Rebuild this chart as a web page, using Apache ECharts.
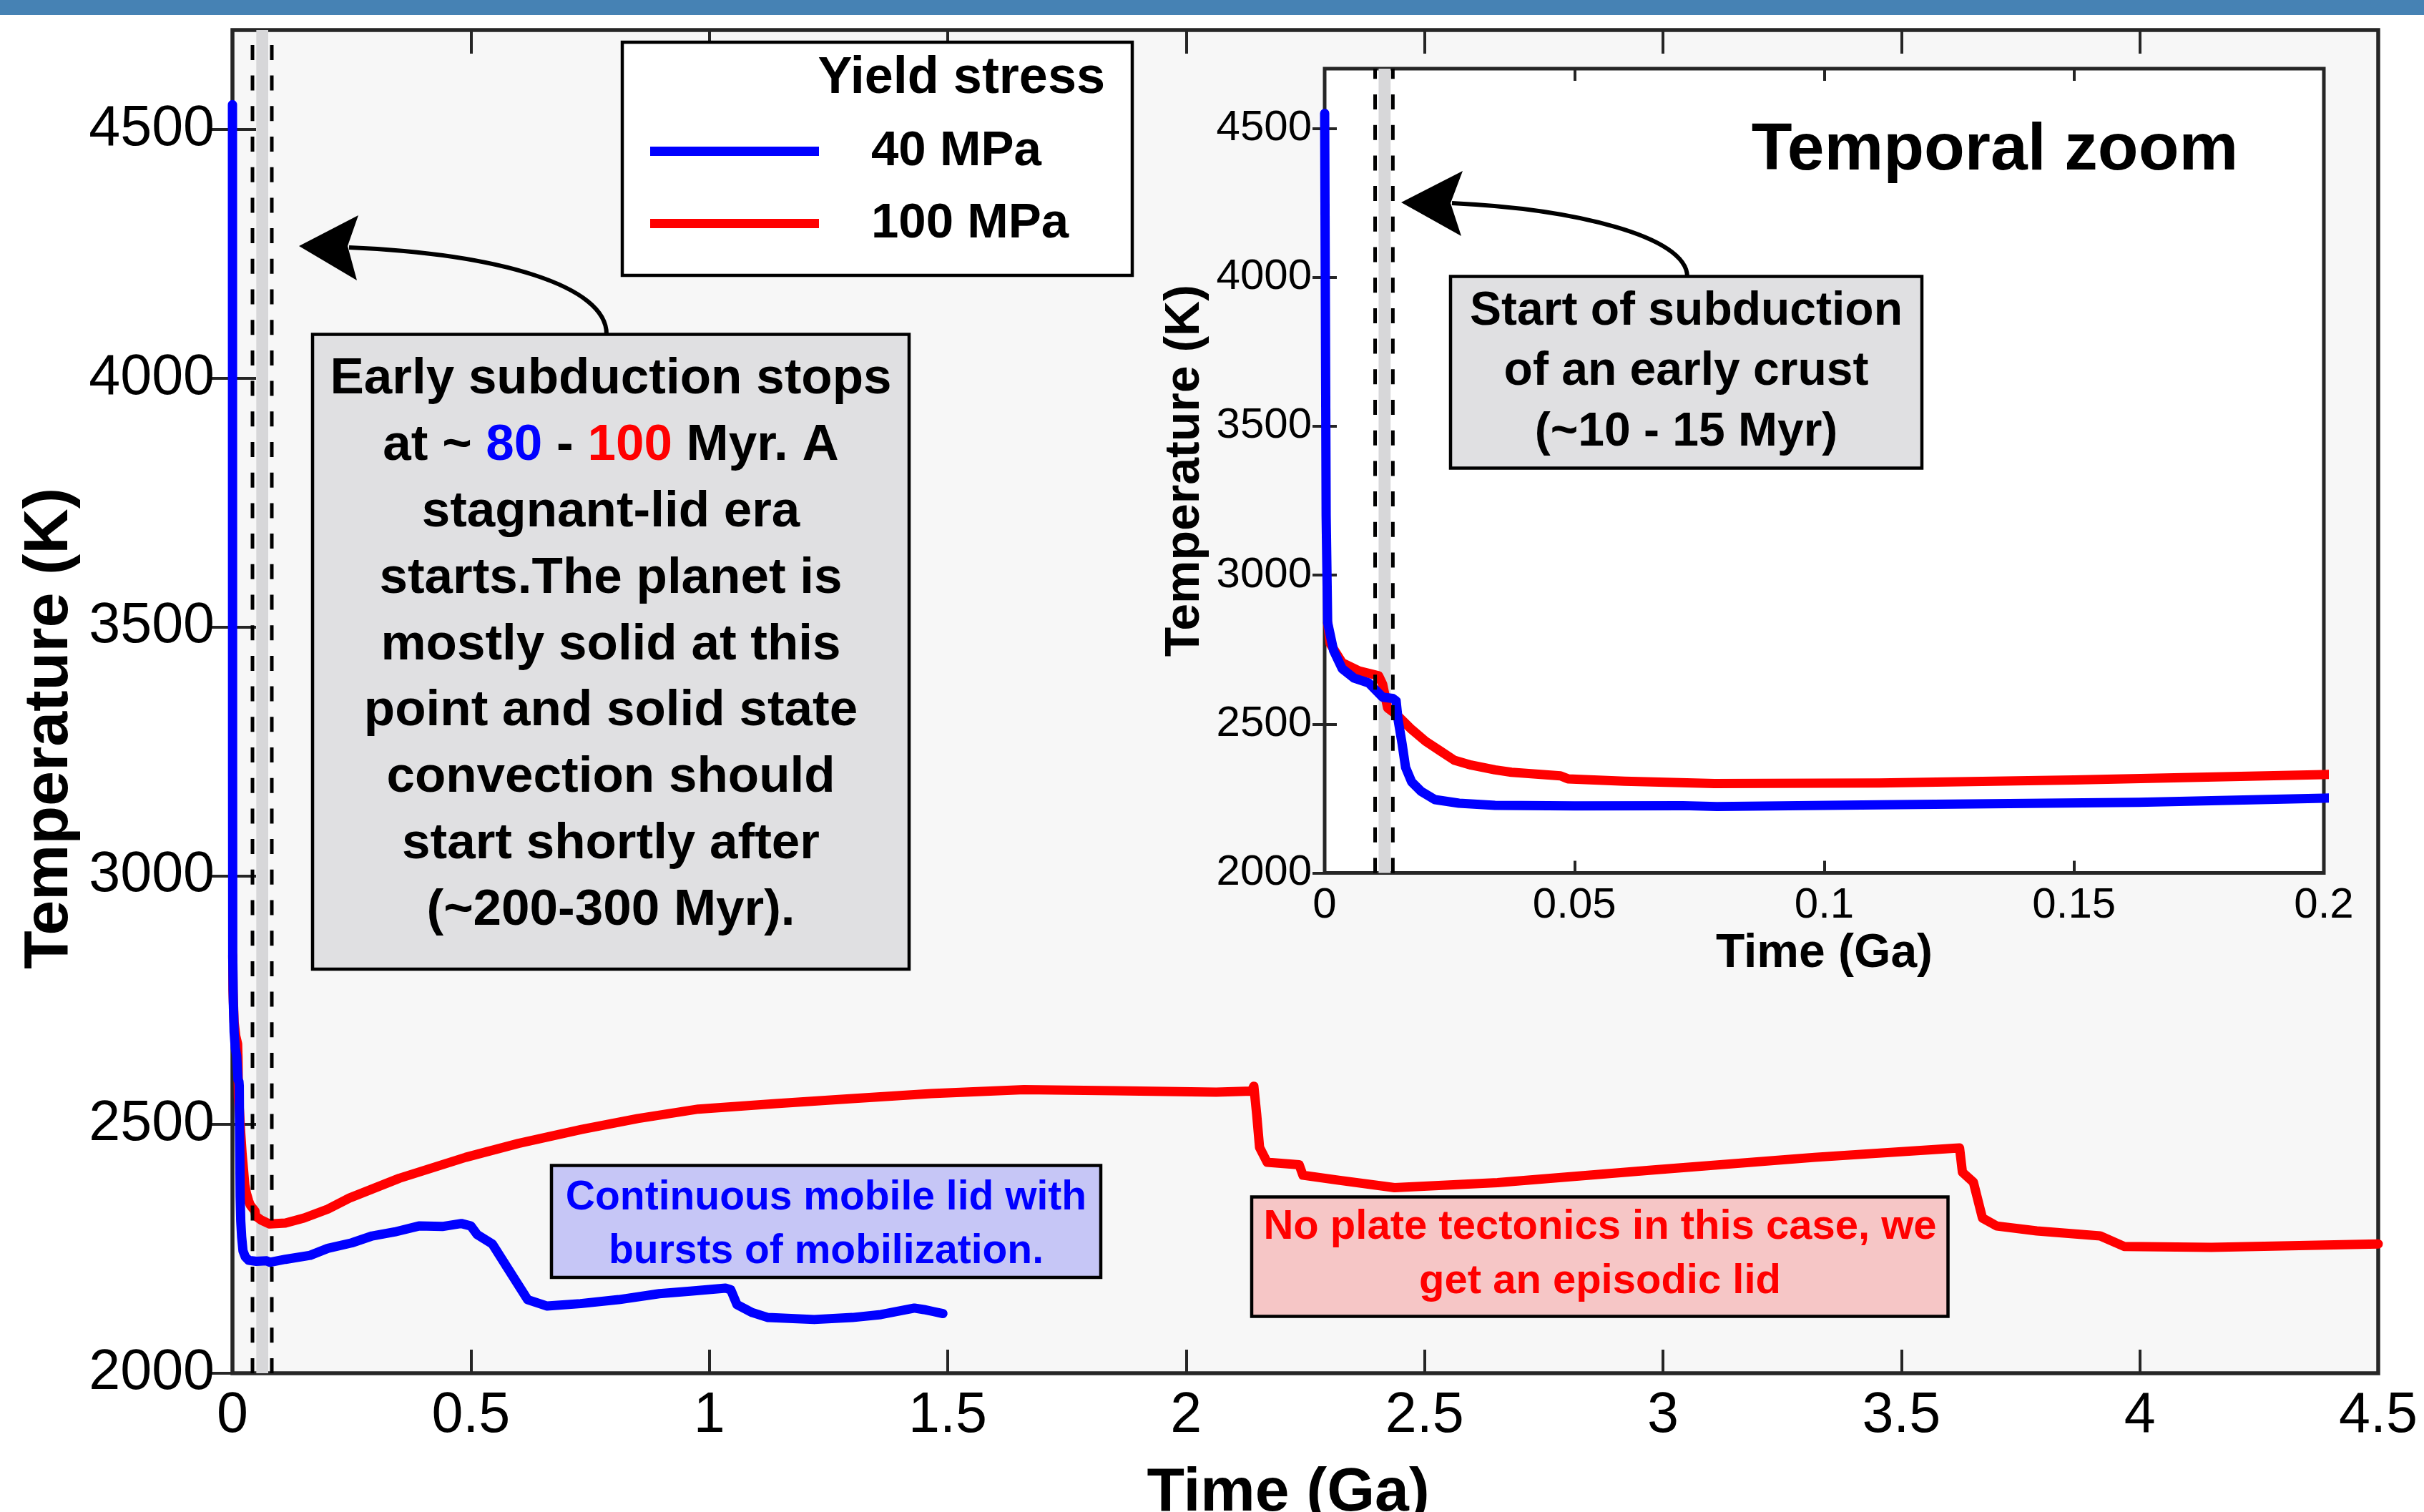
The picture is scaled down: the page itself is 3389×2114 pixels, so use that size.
<!DOCTYPE html>
<html>
<head>
<meta charset="utf-8">
<title>Temperature evolution</title>
<script src="https://cdn.jsdelivr.net/npm/echarts@6/dist/echarts.min.js"></script>
<style>
    html, body { margin: 0; padding: 0; background: #ffffff; }
    #chart { width: 3389px; height: 2114px; }
</style>
</head>
<body>
<div id="chart"></div>
<script>
// yield stress runs
var seriesNames = ['40 MPa', '100 MPa'];
var seriesColors = ['#0000ff', '#ff0000'];

// 40 MPa : time (Ga) / temperature (K)
var blueTime = [0, 0.0003, 0.0006, 0.0018, 0.0035, 0.0059, 0.0088, 0.0102, 0.0116, 0.0136, 0.0143, 0.0147, 0.0155,
    0.0162, 0.0174, 0.0193, 0.0221, 0.0269, 0.0341, 0.05, 0.0717, 0.0785, 0.111, 0.163, 0.2, 0.25, 0.293, 0.34,
    0.391, 0.44, 0.48, 0.5, 0.513, 0.545, 0.578, 0.619, 0.66, 0.73, 0.81, 0.895, 0.96, 1.034, 1.045, 1.058, 1.09,
    1.123, 1.22, 1.3, 1.36, 1.43, 1.45, 1.47, 1.49];
var blueTemp = [4550, 3200, 2840, 2746, 2686, 2654, 2638, 2614, 2590, 2586, 2578, 2514, 2434,
    2354, 2306, 2274, 2246, 2234, 2227, 2225, 2226, 2223, 2229, 2237, 2251, 2262, 2276, 2284,
    2296, 2295, 2301, 2296, 2279, 2260, 2210, 2148, 2135, 2140, 2148, 2160, 2165, 2171, 2168, 2138, 2122,
    2112, 2108, 2112, 2118, 2131, 2128, 2124, 2120];

// 100 MPa : time (Ga) / temperature (K)
var redTime = [0.0006, 0.0011, 0.0035, 0.0069, 0.0108, 0.0116, 0.0126, 0.0145, 0.0174, 0.0202, 0.0231, 0.026,
    0.0293, 0.0341, 0.0374, 0.0472, 0.0487, 0.06, 0.078, 0.111, 0.15, 0.2, 0.245, 0.35, 0.489, 0.6, 0.732, 0.85,
    0.977, 1.14, 1.3, 1.465, 1.66, 1.85, 2.063, 2.137, 2.142, 2.148, 2.154, 2.17, 2.237, 2.245, 2.32, 2.437,
    2.653, 2.985, 3.318, 3.609, 3.622, 3.628, 3.651, 3.67, 3.7, 3.784, 3.917, 3.967, 4.15, 4.5];
var redTemp = [2840, 2770, 2706, 2678, 2662, 2634, 2554, 2530, 2482, 2442, 2410, 2378,
    2362, 2346, 2338, 2326, 2316, 2308, 2300, 2302, 2312, 2330, 2352, 2392, 2434, 2462, 2490, 2512,
    2531, 2542, 2552, 2562, 2570, 2568, 2565, 2567, 2577, 2520, 2454, 2424, 2419, 2398, 2388, 2373,
    2383, 2409, 2434, 2452, 2453, 2404, 2384, 2312, 2296, 2286, 2276, 2255, 2253, 2260];

// axis ticks
var tempTicks = [2000, 2500, 3000, 3500, 4000, 4500];
var tempMax = 4700;
var timeTicks = [0, 0.5, 1, 1.5, 2, 2.5, 3, 3.5, 4, 4.5];
var zoomTimeTicks = [0, 0.05, 0.1, 0.15, 0.2];

// start of subduction window (dashed lines and grey band), Ga
var mainWindowLines = [0.042, 0.0825];
var mainWindowBand = [0.05, 0.075];
var zoomWindowLines = [0.0101, 0.01365];
var zoomWindowBand = [0.0108, 0.0132];

(function () {
    var myChart = echarts.init(document.getElementById('chart'));
    var FONT = '"Liberation Sans", Arial, sans-serif';
    var AXIS_COLOR = '#262626';

    function zip(xs, ys) {
        return xs.map(function (x, i) { return [x, ys[i]]; });
    }

    // one visible axis + one mirrored axis carrying only the inner ticks
    function axisPair(kind, grid, ticks, max, opt) {
        var common = {
            type: 'value', gridIndex: grid,
            min: ticks[0], max: max, interval: ticks[1] - ticks[0],
            splitLine: { show: false },
            axisLine: { show: false },
            axisTick: {
                inside: true, length: opt.tickLen, customValues: ticks,
                lineStyle: { color: AXIS_COLOR, width: 4 }
            }
        };
        var main = echarts.util.merge({
            position: kind === 'x' ? 'bottom' : 'left',
            name: opt.name, nameLocation: 'middle', nameGap: opt.nameGap, nameMoveOverlap: false,
            nameRotate: kind === 'y' ? 90 : 0,
            nameTextStyle: {
                fontFamily: FONT, fontWeight: 'bold', fontSize: opt.nameSize, color: '#000',
                padding: opt.namePad || 0
            },
            axisLabel: {
                show: true, customValues: ticks, margin: opt.labelMargin,
                fontFamily: FONT, fontSize: opt.labelSize, color: '#000',
                formatter: function (v) { return String(v); }
            }
        }, common, true);
        var mirror = echarts.util.merge({
            position: kind === 'x' ? 'top' : 'right',
            axisLabel: { show: false }
        }, echarts.util.clone(common), true);
        return [main, mirror];
    }

    var xAxes = axisPair('x', 0, timeTicks, timeTicks[timeTicks.length - 1], {
        tickLen: 33, name: 'Time (Ga)', nameSize: 86, nameGap: 125, namePad: [0, 48, 0, 0],
        labelSize: 79, labelMargin: 21
    }).concat(axisPair('x', 1, zoomTimeTicks, zoomTimeTicks[zoomTimeTicks.length - 1], {
        tickLen: 17, name: 'Time (Ga)', nameSize: 66, nameGap: 80,
        labelSize: 60, labelMargin: 16
    }));
    var yAxes = axisPair('y', 0, tempTicks, tempMax, {
        tickLen: 33, name: 'Temperature (K)', nameSize: 88, nameGap: 211, namePad: [0, 75, 0, 0],
        labelSize: 79, labelMargin: 25
    }).concat(axisPair('y', 1, tempTicks, tempMax, {
        tickLen: 17, name: 'Temperature (K)', nameSize: 68, nameGap: 161,
        labelSize: 60, labelMargin: 18
    }));

    // red first so the 40 MPa curve sits on top, as in the figure
    var runs = [
        { name: seriesNames[1], color: seriesColors[1], data: zip(redTime, redTemp) },
        { name: seriesNames[0], color: seriesColors[0], data: zip(blueTime, blueTemp) }
    ];
    var series = [];

    // axisIndex: 0 = main panel, 2 = temporal zoom (1 and 3 are the mirrored tick axes)
    function addPanel(axisIndex, band, lines) {
        // grey band under the curves
        series.push({
            type: 'line', name: 'band' + axisIndex, data: [], silent: true, z: 1,
            xAxisIndex: axisIndex, yAxisIndex: axisIndex,
            markArea: {
                silent: true, label: { show: false },
                itemStyle: { color: '#d7d7d9' },
                data: [[{ xAxis: band[0] }, { xAxis: band[1] }]]
            }
        });
        runs.forEach(function (run) {
            series.push({
                type: 'line', name: run.name, data: run.data,
                xAxisIndex: axisIndex, yAxisIndex: axisIndex,
                showSymbol: false, symbol: 'none', z: 3, clip: true,
                itemStyle: { color: run.color },
                lineStyle: { color: run.color, width: 13, cap: 'round', join: 'round' }
            });
        });
        // dashed markers on top
        lines.forEach(function (v) {
            series.push({
                type: 'line', name: 'marker', silent: true, z: 4,
                xAxisIndex: axisIndex, yAxisIndex: axisIndex,
                showSymbol: false, symbol: 'none',
                data: [[v, tempTicks[0]], [v, tempMax]],
                lineStyle: { color: '#000', width: 5, type: [21, 21.7] }
            });
        });
    }
    addPanel(0, mainWindowBand, mainWindowLines);
    addPanel(2, zoomWindowBand, zoomWindowLines);

    function textEl(x, y, text, size, color, lh, rich) {
        return {
            type: 'text', x: x, y: y, z: 16,
            style: {
                text: text, fill: color, fontFamily: FONT, fontWeight: 'bold', fontSize: size,
                lineHeight: lh, align: 'center', verticalAlign: 'middle',
                textAlign: 'center', textVerticalAlign: 'middle', rich: rich
            }
        };
    }
    function boxEl(x, y, w, h, fill) {
        return {
            type: 'rect', z: 15, shape: { x: x, y: y, width: w, height: h },
            style: { fill: fill, stroke: '#000', lineWidth: 4.5 }
        };
    }

    option = {
        animation: false,
        backgroundColor: '#ffffff',
        textStyle: { fontFamily: FONT },
        grid: [
            { left: 325, top: 42, width: 3000, height: 1878, show: true, outerBoundsMode: 'none',
              backgroundColor: '#f7f7f7', borderColor: AXIS_COLOR, borderWidth: 5.5 },
            { left: 1852, top: 96, width: 1397, height: 1124.5, show: true, outerBoundsMode: 'none',
              backgroundColor: '#ffffff', borderColor: AXIS_COLOR, borderWidth: 5 }
        ],
        xAxis: xAxes,
        yAxis: yAxes,
        legend: {
            data: seriesNames, orient: 'vertical', left: 909, top: 177,
            itemWidth: 236, itemHeight: 13, itemGap: 32, icon: 'rect',
            padding: 0, selectedMode: false, z: 20,
            textStyle: {
                fontFamily: FONT, fontWeight: 'bold', fontSize: 69, color: '#000',
                padding: [0, 0, 0, 68]
            }
        },
        graphic: { elements: [
            { type: 'rect', z: 0, shape: { x: 0, y: 0, width: 3389, height: 21 }, style: { fill: '#4682b4' } },
            // legend frame and title
            { type: 'rect', z: 15, shape: { x: 870, y: 59, width: 713, height: 326 },
              style: { fill: '#ffffff', stroke: '#000', lineWidth: 4.5 } },
            { type: 'text', x: 1545, y: 110, z: 16,
              style: { text: 'Yield stress', fill: '#000', fontFamily: FONT, fontWeight: 'bold', fontSize: 72,
                       align: 'right', verticalAlign: 'middle', textAlign: 'right', textVerticalAlign: 'middle' } },
            // early subduction note
            boxEl(437, 467.5, 834, 887.5, '#e0e0e2'),
            textEl(854, 902,
                'Early subduction stops\nat ~ {b|80} - {r|100} Myr. A\nstagnant-lid era\nstarts.The planet is\n' +
                'mostly solid at this\npoint and solid state\nconvection should\nstart shortly after\n(~200-300 Myr).',
                71, '#000', 92.9, {
                    b: { fill: '#0000ff', fontFamily: FONT, fontWeight: 'bold', fontSize: 71, lineHeight: 92.9 },
                    r: { fill: '#ff0000', fontFamily: FONT, fontWeight: 'bold', fontSize: 71, lineHeight: 92.9 }
                }),
            { type: 'bezierCurve', z: 15,
              shape: { x1: 848, y1: 467, cpx1: 848, cpy1: 400, cpx2: 700, cpy2: 355, x2: 488, y2: 346 },
              style: { stroke: '#000', lineWidth: 6, fill: null } },
            { type: 'polygon', z: 15, shape: { points: [[418, 344], [501, 301], [486, 344], [499, 392]] },
              style: { fill: '#000' } },
            // mobile lid note
            boxEl(771, 1629.5, 768, 156.5, '#c6c6f6'),
            textEl(1155, 1713, 'Continuous mobile lid with\nbursts of mobilization.', 57, '#0000ff', 75),
            // episodic lid note
            boxEl(1750, 1673.5, 973.5, 167, '#f6c6c6'),
            textEl(2237, 1754, 'No plate tectonics in this case, we\nget an episodic lid', 58, '#ff0000', 76.5),
            // inset notes
            textEl(2789, 211, 'Temporal zoom', 93, '#000', 100),
            boxEl(2028, 386.6, 659, 268, '#e0e0e2'),
            textEl(2357.5, 520, 'Start of subduction\nof an early crust\n(~10 - 15 Myr)', 66, '#000', 84.5),
            { type: 'bezierCurve', z: 15,
              shape: { x1: 2359, y1: 387, cpx1: 2359, cpy1: 330, cpx2: 2200, cpy2: 292, x2: 2030, y2: 284 },
              style: { stroke: '#000', lineWidth: 6, fill: null } },
            { type: 'polygon', z: 15, shape: { points: [[1959, 283], [2045, 239], [2028, 284], [2043, 330]] },
              style: { fill: '#000' } }
        ] },
        series: series
    };

    myChart.setOption(option);
    window.addEventListener('resize', function () {
        myChart.resize();
    });
})();
</script>
</body>
</html>
